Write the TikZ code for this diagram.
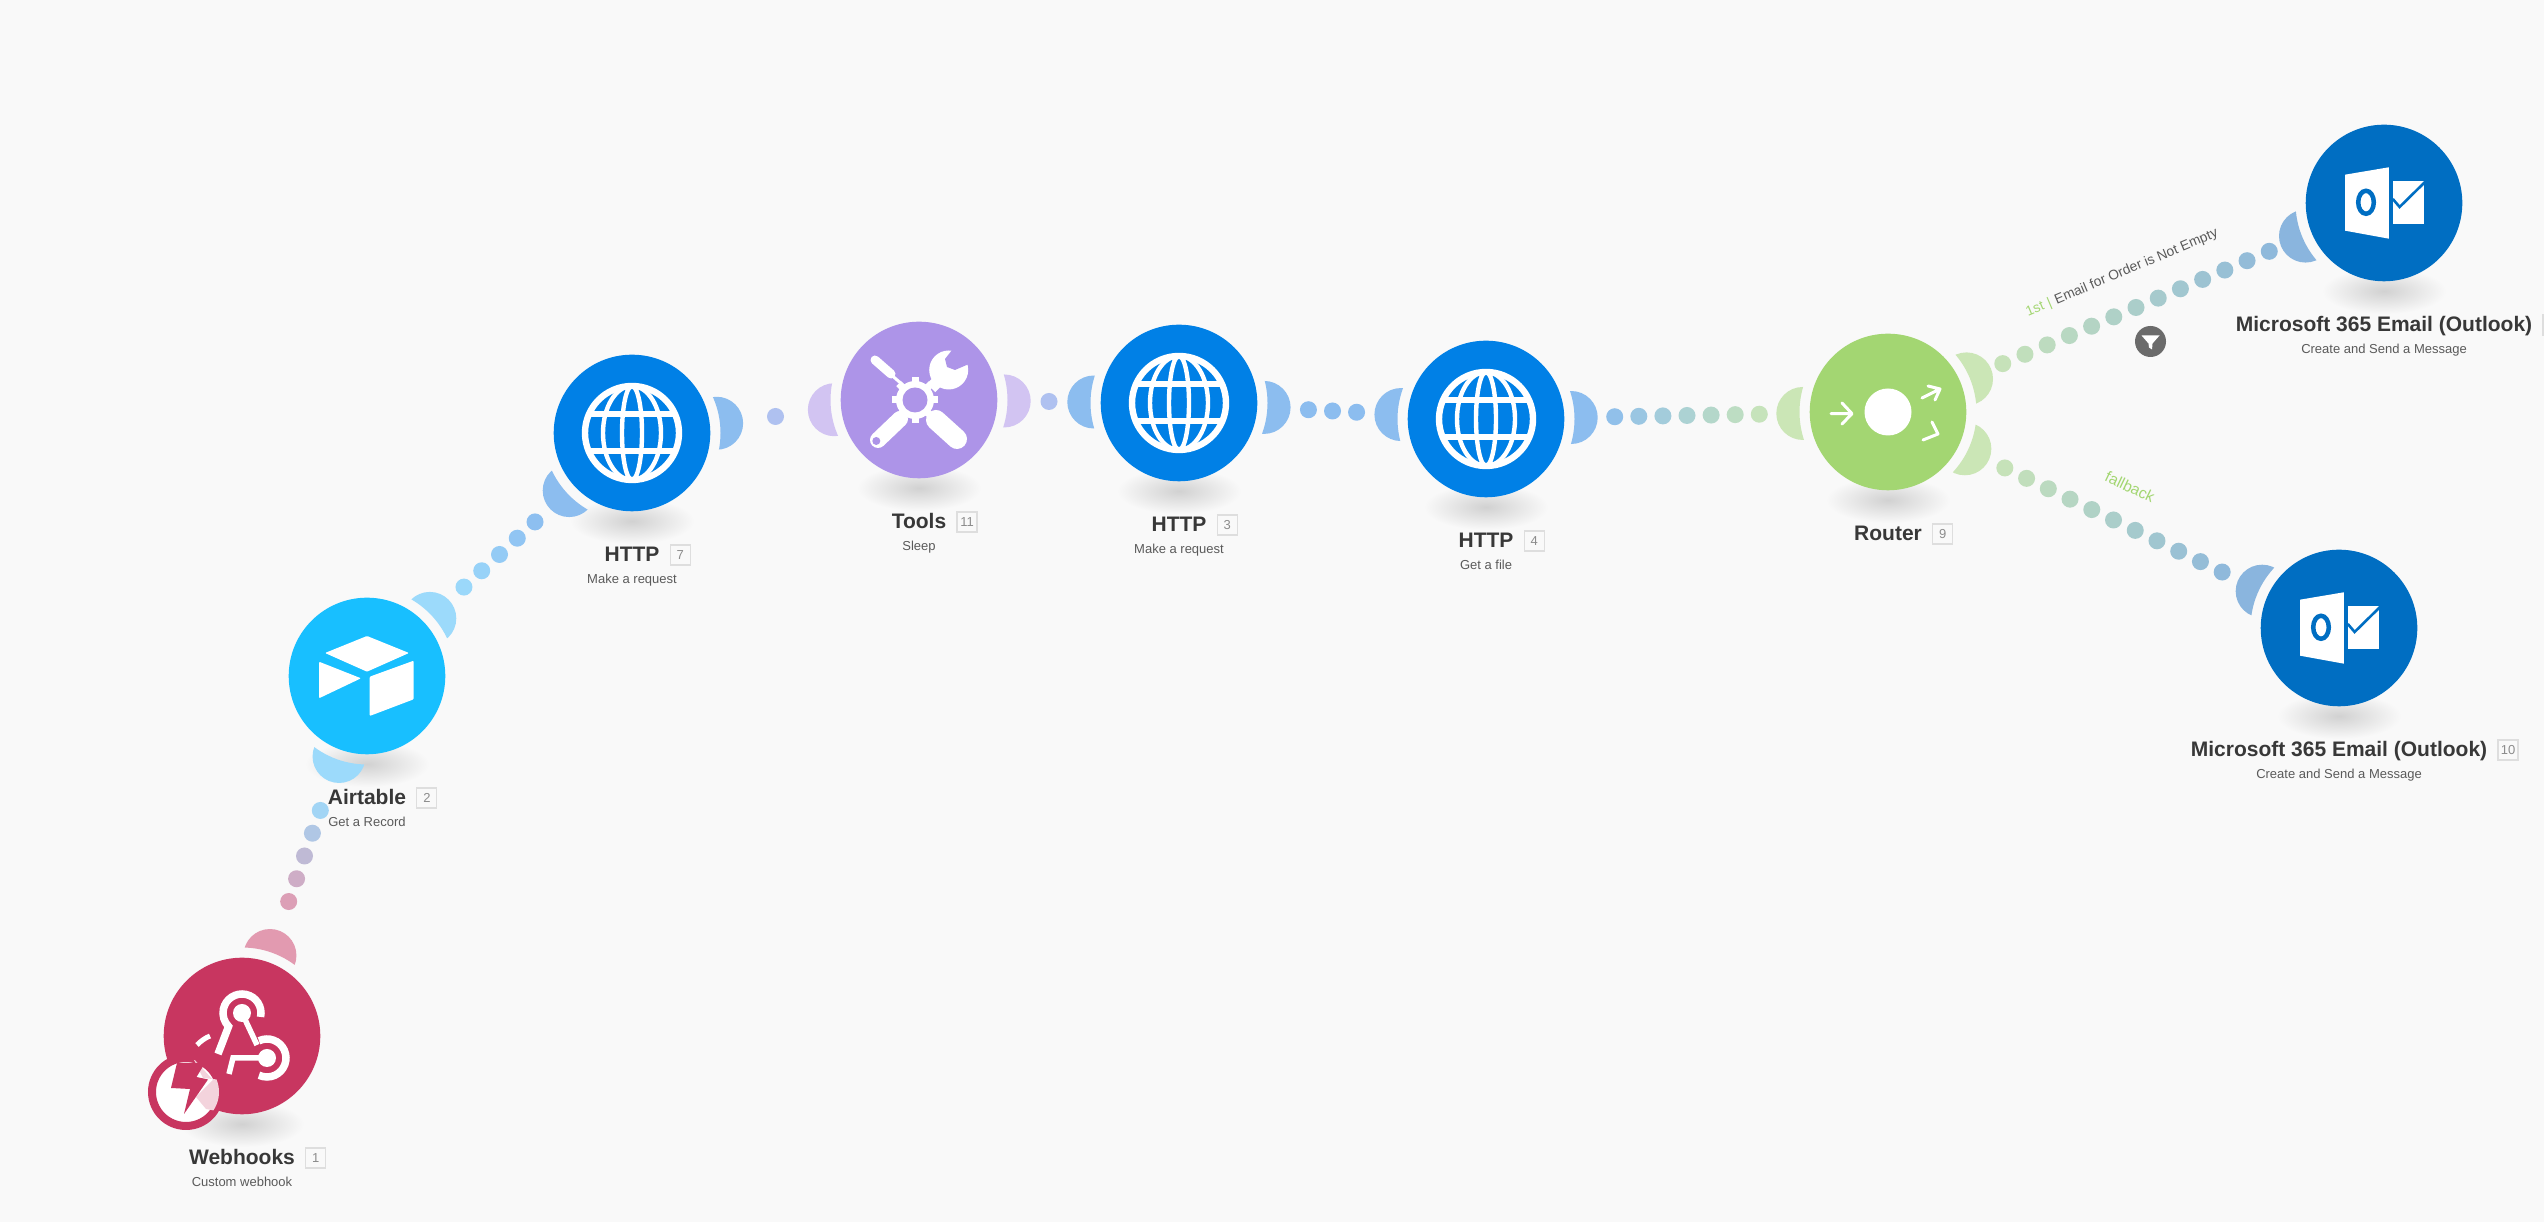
\documentclass[tikz,border=0pt]{standalone}
\usepackage{fontspec}
\setmainfont{Liberation Sans}
\usetikzlibrary{calc}
\definecolor{bgc}{HTML}{F9F9F9}
\definecolor{whC}{HTML}{C83660}\definecolor{whP}{HTML}{E29AB0}
\definecolor{atC}{HTML}{18BFFF}\definecolor{atP}{HTML}{9CDAFB}
\definecolor{htC}{HTML}{0080E6}\definecolor{htP}{HTML}{8CBDEF}
\definecolor{toC}{HTML}{AD94E8}\definecolor{toP}{HTML}{D2C4F2}
\definecolor{roC}{HTML}{A3D672}\definecolor{roP}{HTML}{CBE6B6}
\definecolor{ouC}{HTML}{006EC2}\definecolor{ouP}{HTML}{8AB5DE}
\definecolor{txtC}{HTML}{383838}\definecolor{subC}{HTML}{5A5A5A}
\pgfdeclarelayer{back}\pgfsetlayers{back,main}
\tikzset{
  modnode/.style={circle,minimum size=156.6pt,inner sep=0pt,fill=#1},
  modtitle/.style={anchor=base,text=txtC,inner sep=0pt,font=\fontsize{21}{24}\selectfont\bfseries},
  modsub/.style={anchor=base,text=subC,inner sep=0pt,font=\fontsize{13}{15}\selectfont},
  modnum/.style={draw=black!13,line width=1.2pt,minimum size=20pt,inner sep=0pt,text=black!45,font=\fontsize{13}{15}\selectfont},
  edgelabel/.style={inner sep=0pt,font=\fontsize{13.8}{15}\selectfont},
}
% shadow under a module
\newcommand{\modshadow}[1]{\begin{pgfonlayer}{back}
  \shade[inner color=black!18,outer color=bgc] ($(#1)+(0,-88)$) ellipse (62 and 23);
\end{pgfonlayer}}
% half-disc port of node #1 toward node #2
\newcommand{\modport}[3]{\begin{scope}[even odd rule]
  \clip (-200,-200) rectangle (2800,1500) (#1.center) circle (88.5);
  \fill[#3] ($(#1.center)!85.2pt!(#2.center)$) circle (26.5);
\end{scope}}
% connector #1 -> #2 of #3 dots, from colour #4 to #5
\newcommand{\modlink}[5]{%
  \modport{#1}{#2}{#4}\modport{#2}{#1}{#5}%
  \coordinate (mid) at ($(#1.center)!0.5!(#2.center)$);
  \pgfmathtruncatemacro{\lastdot}{#3-1}
  \foreach \i in {0,...,\lastdot}{
    \pgfmathsetmacro{\dd}{(\i-(#3-1)/2)*24.1}
    \pgfmathtruncatemacro{\pct}{#3>1 ? 8+84*\i/max(#3-1,1) : 50}
    \colorlet{dotc}{#5!\pct!#4}
    \fill[dotc] ($(mid)!\dd pt!(#2.center)$) circle (8.5);
  }}
% labels under a module
\newcommand{\modlabel}[4]{%
  \node[modtitle] (#1-t) at ($(#1.center)+(0,-129)$) {#2};
  \node[modnum,anchor=west] (#1-n) at ($(#1-t.east|-#1.center)+(10,-122)$) {#3};
  \node[modsub] (#1-s) at ($(#1.center)+(0,-151)$) {#4};}
\newcommand{\globeicon}[1]{\begin{scope}[shift={(#1.center)},draw=white]
  \draw[line width=6.4pt] (0,0) circle (47);
  \draw[line width=4.4pt] (0,0) ellipse (29 and 47) (0,0) ellipse (10 and 47);
  \draw[line width=6pt] (-45,18.5)--(45,18.5) (-45,-18.5)--(45,-18.5);
\end{scope}}
\newcommand{\outlookicon}[1]{\begin{scope}[shift={(#1.center)}]
  \fill[white] (-39,28.3)--(4.9,35.7)--(4.9,-35.7)--(-39,-27.7)--cycle;
  \draw[ouC,line width=4.5pt] (-18,0.7) ellipse (7.8 and 11.5);
  \fill[white] (8.8,22.3)--(40,22.3)--(40,-21)--(8.8,-21)--cycle;
  \draw[ouC,line width=2.6pt] (8.8,4)--(15.6,-4)--(41,21);
\end{scope}}
\begin{document}
\begin{tikzpicture}[x=1pt,y=1pt]
\useasboundingbox (0,0) rectangle (2544,1222);
\begin{pgfonlayer}{back}
\fill[bgc] (0,0) rectangle (2544,1222);
\end{pgfonlayer}
% modules
\node[modnode=whC] (webhooks) at (242,186) {};
\node[modnode=atC] (airtable) at (367,546) {};
\node[modnode=htC] (http7) at (632,789) {};
\node[modnode=toC] (tools) at (919,822) {};
\node[modnode=htC] (http3) at (1179,819) {};
\node[modnode=htC] (http4) at (1486,803) {};
\node[modnode=roC] (router) at (1888,810) {};
\node[modnode=ouC] (outA) at (2384,1019) {};
\node[modnode=ouC] (outB) at (2339,594) {};
\foreach \n in {webhooks,airtable,http7,tools,http3,http4,router,outA,outB}{\modshadow{\n}}
% connectors
\modlink{webhooks}{airtable}{5}{whP}{atP}
\modlink{airtable}{http7}{5}{atP}{htP}
\modlink{http7}{tools}{1}{htP}{toP}
\modlink{tools}{http3}{1}{toP}{htP}
\modlink{http3}{http4}{3}{htP}{htP}
\modlink{http4}{router}{7}{htP}{roP}
\modlink{router}{outA}{13}{roP}{ouP}
\modlink{router}{outB}{11}{roP}{ouP}
% icons
\globeicon{http7}\globeicon{http3}\globeicon{http4}
\outlookicon{outA}\outlookicon{outB}
% airtable icon
\begin{scope}[shift={(airtable.center)}]
  \fill[white,rounded corners=1pt] (-42,23)--(0,40)--(42,23)--(0,4.3)--cycle;
  \fill[white,rounded corners=1pt] (-48,14.3)--(-6,-2.3)--(-48,-22.3)--cycle;
  \fill[white,rounded corners=1pt] (2.7,-0.7)--(46.7,15.3)--(46.7,-23.3)--(2.7,-40)--cycle;
\end{scope}
% tools icon
\begin{scope}[shift={(tools.center)}]
  \draw[white,line width=9pt,line cap=round] (-44,40)--(-28,26);
  \draw[white,line width=3pt] (-30,27)--(-8,8);
  \draw[white,line width=16pt,line cap=round] (-19,-19)--(-41,-40);
  \fill[toC] (-42.7,-41) circle (4);
  \draw[white,line width=20pt,line cap=round] (17,-20)--(38,-39);
  \draw[white,line width=12pt] (30,30)--(12,12);
  \fill[white] (29.7,30) circle (19.5);
  \fill[toC] (26,41)--(28,33)--(36,30)--(50,36)--(52,55)--(37,55)--cycle;
  \fill[white] (-4,0) circle (19);
  \foreach \a in {0,45,...,315}{
    \fill[white,rotate around={\a:(-4,0)}] (-7.5,15) rectangle (-0.5,23);}
  \fill[toC] (-4,0) circle (12.5);
\end{scope}
% router icon
\begin{scope}[shift={(router.center)},draw=white,line width=3pt,line cap=round,line join=round]
  \fill[white] (0,0) circle (23.5);
  \draw (-57,-1.7)--(-37,-1.7) (-46,9)--(-36,-1.7)--(-46,-12);
  \draw (34,14)--(52,23) (40,26)--(52,23)--(47,12);
  \draw (44,-10)--(50,-22)--(35,-28);
\end{scope}
% webhooks icon
\begin{scope}[shift={(webhooks.center)},draw=white,line width=7.5pt]
  \fill[white] (0,23) circle (9) (25,-22) circle (9);
  \draw (0,23)++(-12:19) arc (-12:225:19) -- (-24,-18);
  \draw[line width=5.5pt] (0,23)--(15,-9);
  \draw[line width=5.5pt] (25,-22)--(-9,-22)--(-13,-38);
  \draw (25,-22)++(115:19) arc (115:-115:19);
  \draw[line width=5pt] (-45,-9) .. controls (-41,-5) and (-37,-2) .. (-32,0);
\end{scope}
% trigger badge
\node[circle,minimum size=68pt,inner sep=0pt,fill=white,draw=whC,line width=8pt] (badge) at (186,130) {};
\begin{scope}[shift={(badge.center)}]
  \clip (0,0) circle (33);
  \fill[whC!22] (7,34)--(17,14)--(36,12)--(36,-20)--(20,-17)--(10,-5)--(27,12)--cycle;
  \fill[whC] (-9,29)--(19,29)--(10.5,15)--(22,12.5)--(-2,-22)--(4,3)--(-15,4)--cycle;
\end{scope}
% labels
\modlabel{webhooks}{Webhooks}{1}{Custom webhook}
\modlabel{airtable}{Airtable}{2}{Get a Record}
\modlabel{http7}{HTTP}{7}{Make a request}
\modlabel{tools}{Tools}{11}{Sleep}
\modlabel{http3}{HTTP}{3}{Make a request}
\modlabel{http4}{HTTP}{4}{Get a file}
\modlabel{router}{Router}{9}{}
\modlabel{outA}{Microsoft 365 Email (Outlook)}{}{Create and Send a Message}
\modlabel{outB}{Microsoft 365 Email (Outlook)}{10}{Create and Send a Message}
% edge labels and filter
\node[edgelabel,rotate=22.8,text=subC] (lblA) at (2122,949) {\textcolor{roC}{1st\,\,|}\,\,Email for Order is Not Empty};
\node[edgelabel,rotate=-25.6,text=roC,font=\fontsize{15.5}{17}\selectfont] (lblB) at (2130,735) {fallback};
\node[circle,minimum size=31pt,inner sep=0pt,fill=black!58] (filter) at (2150.5,880.5) {};
\fill[white] ($(filter)+(-9,6)$)--($(filter)+(9,6)$)--($(filter)+(2,-2)$)--($(filter)+(1.5,-8)$)--($(filter)+(-1.5,-6)$)--($(filter)+(-2,-2)$)--cycle;
\end{tikzpicture}
\end{document}
